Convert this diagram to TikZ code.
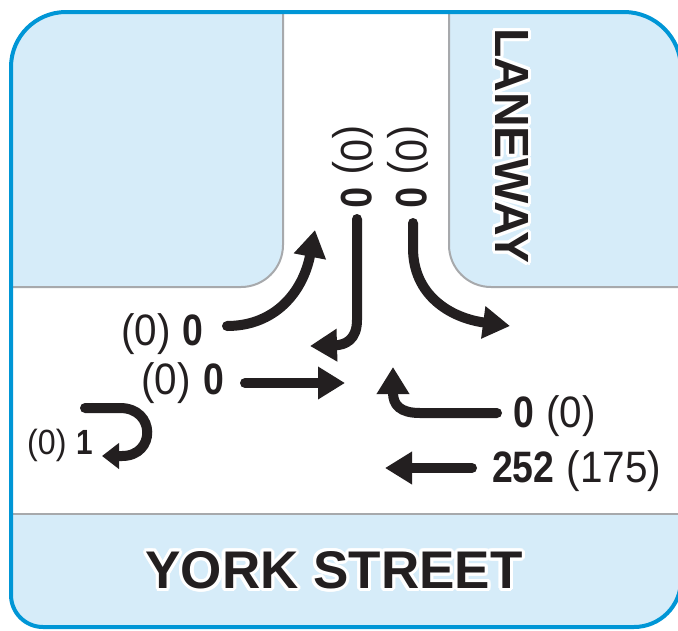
\documentclass[tikz,border=0pt]{standalone}
\usepackage{fontspec}
\setmainfont{Liberation Sans}
\newfontfamily\numreg[FakeStretch=0.92]{Liberation Sans}
\newfontfamily\numbf[FakeStretch=0.85]{Liberation Sans}
\usetikzlibrary{arrows.meta}
\definecolor{frameblue}{RGB}{0,150,214}
\definecolor{lightblue}{RGB}{214,236,249}
\definecolor{edgegray}{RGB}{167,169,172}
\definecolor{ink}{RGB}{35,31,32}
\tikzset{
  flow/.style={draw=ink, line width=10pt, line cap=round, -{Triangle[length=27pt,width=31pt]}},
  uturn/.style={draw=ink, line width=10pt, line cap=round, -{Triangle[length=17pt,width=25pt]}},
  vol/.style={inner sep=0pt, text=ink, font=\fontsize{44}{44}\selectfont},
  volsmall/.style={inner sep=0pt, text=ink, font=\fontsize{35}{35}\selectfont},
  street/.style={inner sep=0pt, font=\fontsize{53}{53}\selectfont\bfseries},
  lane/.style={inner sep=0pt, font=\fontsize{48}{48}\selectfont\bfseries, rotate=-90},
  roadedge/.style={draw=edgegray, line width=2pt},
}
\newcommand\bnum[1]{{\numbf\bfseries #1}}
\newcommand\rnum[1]{{\numreg\mdseries #1}}
\begin{document}
\begin{tikzpicture}[x=1pt,y=-1pt]
\useasboundingbox (0,0) rectangle (678,630);
\fill[white] (0,0) rectangle (678,630);
% frame interior
\begin{scope}
\clip (11,300) -- (11,67) arc[start angle=180, end angle=270, radius=55]
  -- (624,12) arc[start angle=270, end angle=360, radius=57]
  -- (681,580) arc[start angle=0, end angle=90, radius=47]
  -- (43,627) arc[start angle=90, end angle=180, radius=32] -- cycle;
\fill[lightblue, rounded corners=42] (-60,-60) -- (283,-60) -- (283,287) -- (-60,287) -- cycle;
\fill[lightblue, rounded corners=42] (449,-60) -- (760,-60) -- (760,287) -- (449,287) -- cycle;
\fill[lightblue] (-60,514) rectangle (760,700);
\draw[roadedge, rounded corners=42] (283,-10) -- (283,287) -- (-10,287);
\draw[roadedge, rounded corners=42] (449,-10) -- (449,287) -- (700,287);
\draw[roadedge] (-10,514) -- (700,514);
\end{scope}
\draw[frameblue, line width=4pt] (11,300) -- (11,67) arc[start angle=180, end angle=270, radius=55]
  -- (624,12) arc[start angle=270, end angle=360, radius=57]
  -- (681,580) arc[start angle=0, end angle=90, radius=47]
  -- (43,627) arc[start angle=90, end angle=180, radius=32] -- cycle;
% street names with white outline
\foreach \a in {0,20,...,340}{
  \node[lane, text=white, name=lw\a] at ([shift={(\a:3.2)}]512,146) {LANEWAY};
  \node[street, text=white, name=ys\a] at ([shift={(\a:3.2)}]334,570) {YORK STREET};
}
\node[lane, text=ink] (laneway) at (512,146) {LANEWAY};
\node[street, text=ink] (york) at (334,570) {YORK STREET};
% volumes
\node[vol, rotate=-90, anchor=base] (c1) at (341,167) {\rnum{(0)} \bnum{0}};
\node[vol, rotate=-90, anchor=base] (c2) at (396,167) {\rnum{(0)} \bnum{0}};
\node[vol, anchor=base east] (tA) at (204,345) {\rnum{(0)} \bnum{0}};
\node[vol, anchor=base east] (tB) at (224,394) {\rnum{(0)} \bnum{0}};
\node[vol, anchor=base west] (tC) at (513,427) {\bnum{0} \rnum{(0)}};
\node[vol, anchor=base west] (tD) at (492,482) {\bnum{252} \rnum{(175)}};
\node[volsmall, anchor=base east] (tE) at (93,454) {\rnum{(0)} \bnum{1}};
% arrow end points
\coordinate (a1s) at (227,326); \coordinate (a1e) at (315,230);
\coordinate (a2s) at (357,219); \coordinate (a2e) at (310,346);
\coordinate (a3s) at (413,223); \coordinate (a3e) at (510,326);
\coordinate (a4s) at (245,383); \coordinate (a4e) at (345,383);
\coordinate (a5s) at (497,413); \coordinate (a5e) at (393,367);
\coordinate (a6s) at (472,468); \coordinate (a6e) at (385,468);
\coordinate (a7s) at (85,408);  \coordinate (a7e) at (102,456);
\draw[flow] (a1s) .. controls (275,326) and (303,292) .. (a1e);
\draw[flow] (a2s) -- (357,320) .. controls (357,340) and (345,345) .. (a2e);
\draw[flow] (a3s) -- (413,248) .. controls (413,295) and (450,318) .. (a3e);
\draw[flow] (a4s) -- (a4e);
\draw[flow] (a5s) -- (420,413) .. controls (400,413) and (393,405) .. (a5e);
\draw[flow] (a6s) -- (a6e);
\draw[uturn] (a7s) -- (120,408) .. controls (156,408) and (156,456) .. (122,456) -- (a7e);
\end{tikzpicture}
\end{document}
